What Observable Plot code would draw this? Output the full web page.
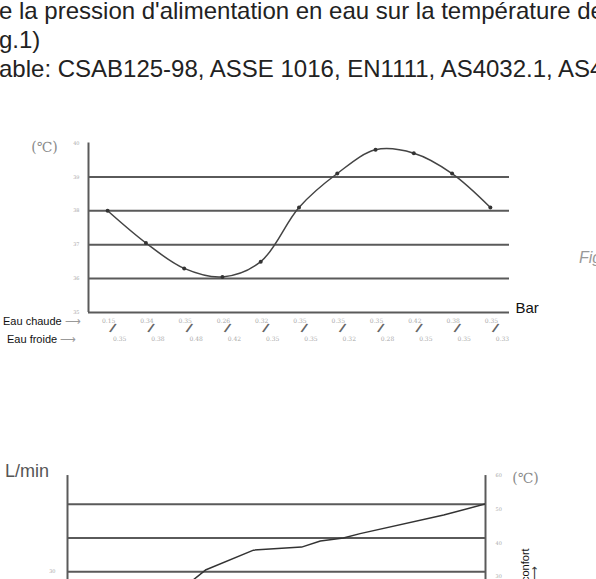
<!DOCTYPE html>
<html>
<head>
<meta charset="utf-8">
<script src="https://cdn.jsdelivr.net/npm/d3@7"></script>
<script src="https://cdn.jsdelivr.net/npm/@observablehq/plot@0.6"></script>
<style>
  html, body { margin: 0; padding: 0; background: #fff; }
  body { width: 596px; height: 579px; overflow: hidden; position: relative; font-family: "Liberation Sans", Arial, sans-serif; }
  .abs { position: absolute; white-space: nowrap; }
  .doc { font-size: 24px; color: #222; }
  .small { font-size: 11px; color: #111; }
  .arrow { color: #999; font-size: 11px; }
</style>
</head>
<body>
<div class="abs doc" style="left:-1px; top:-3px;">e la pression d'alimentation en eau sur la température de</div>
<div class="abs doc" style="left:-1px; top:26px;">g.1)</div>
<div class="abs doc" style="left:-1px; top:55px;">able: CSAB125-98, ASSE 1016, EN1111, AS4032.1, AS4032.2</div>
<div class="abs" style="left:579px; top:249px; font-size:16px; font-style:italic; color:#999;">Fig.1</div>
<div class="abs small" style="left:3px; top:315px;">Eau chaude <span class="arrow">⟶</span></div>
<div class="abs small" style="left:7px; top:333px;">Eau froide <span class="arrow">⟶</span></div>
<div class="abs" style="left:5px; top:461px; font-size:18px; color:#555;">L/min</div>
<div class="abs" style="left:519px; top:582px; font-size:11px; color:#111; transform:rotate(-90deg); transform-origin:left top;">confort</div>
<div class="abs" style="left:528px; top:582px; font-size:11px; color:#333; transform:rotate(-90deg); transform-origin:left top;">⟶</div>
<div id="top" class="abs" style="left:0; top:120px;"></div>
<div id="bottom" class="abs" style="left:0; top:440px;"></div>
<script>
// ---- top chart data ----
const stepIndex = [0, 1, 2, 3, 4, 5, 6, 7, 8, 9, 10];
const mixTemp = [38.0, 37.05, 36.3, 36.05, 36.5, 38.1, 39.1, 39.8, 39.7, 39.1, 38.1];
const hotPressure = ["0.15", "0.34", "0.35", "0.26", "0.32", "0.35", "0.35", "0.35", "0.42", "0.38", "0.35"];
const coldPressure = ["0.35", "0.38", "0.48", "0.42", "0.35", "0.35", "0.32", "0.28", "0.35", "0.35", "0.33"];
const topGrid = [36, 37, 38, 39];
const topTicks = [35, 36, 37, 38, 39, 40];

// ---- bottom chart data ----
const flowPos = [22, 30, 33, 44.5, 56, 60.5, 66, 70, 90, 100];
const outTemp = [24, 27.5, 30.5, 36.4, 37.3, 39.1, 40.0, 41.3, 46.8, 50.1];
const bottomGrid = [50, 40, 30];
const rightTicks = [60, 50, 40, 30];
const leftTicks = [30];

const rows = stepIndex.map((i, k) => ({i, t: mixTemp[k], hot: hotPressure[k], cold: coldPressure[k]}));

const topChart = Plot.plot({
  width: 596, height: 240,
  marginLeft: 88, marginRight: 87, marginTop: 22.5, marginBottom: 48,
  x: {domain: [-0.5, 10.5], axis: null},
  y: {domain: [35, 40], axis: null},
  style: {background: "transparent", overflow: "visible"},
  marks: [
    Plot.ruleY(topGrid, {stroke: "#5a5a5a", strokeWidth: 2}),
    Plot.ruleY([35], {stroke: "#5a5a5a", strokeWidth: 2}),
    Plot.ruleX([-0.5], {y1: 35, y2: 40, stroke: "#5a5a5a", strokeWidth: 2}),
    Plot.axisY(topTicks, {label: null, tickSize: 0, tickPadding: 9, fontSize: 5, fill: "#aaa", fontFamily: "DejaVu Serif"}),
    Plot.text(["(℃)"], {frameAnchor: "top-left", textAnchor: "middle", dx: -44, dy: -1, fontSize: 14, fill: "#8a8a8a", fontFamily: "DejaVu Serif"}),
    Plot.line(rows, {x: "i", y: "t", curve: "catmull-rom", stroke: "#444", strokeWidth: 1.5}),
    Plot.dot(rows, {x: "i", y: "t", r: 2, fill: "#333"}),
    Plot.text(rows, {x: "i", text: "hot", frameAnchor: "bottom", dy: 10, dx: 1, fontSize: 6, fill: "#aaa", fontFamily: "DejaVu Serif"}),
    Plot.text(rows, {x: "i", text: () => "/", frameAnchor: "bottom", dy: 20, dx: 4, fontSize: 13, fontWeight: "bold", fill: "#666", rotate: 15}),
    Plot.text(rows, {x: "i", text: "cold", frameAnchor: "bottom", dy: 28, dx: 12, fontSize: 6, fill: "#aaa", fontFamily: "DejaVu Serif"}),
    Plot.text(["Bar"], {frameAnchor: "bottom-right", dx: 6, textAnchor: "start", fontSize: 15, fill: "#111", fontFamily: "Liberation Sans"})
  ]
});
document.getElementById("top").appendChild(topChart);

const lineRows = flowPos.map((x, k) => ({x, y: outTemp[k]}));

const bottomChart = Plot.plot({
  width: 596, height: 165,
  marginLeft: 67, marginRight: 111, marginTop: 30, marginBottom: 0,
  x: {domain: [0, 100], axis: null},
  y: {domain: [20, 60], axis: null},
  style: {background: "transparent", overflow: "visible"},
  marks: [
    Plot.ruleY(bottomGrid, {stroke: "#5a5a5a", strokeWidth: 2}),
    Plot.ruleX([0], {y1: 20, y2: 58.5, stroke: "#5a5a5a", strokeWidth: 2}),
    Plot.ruleX([100], {y1: 20, y2: 58.5, stroke: "#5a5a5a", strokeWidth: 2}),
    Plot.axisY(rightTicks, {anchor: "right", label: null, tickSize: 0, tickPadding: 10, dy: 5, fontSize: 5, fill: "#aaa", fontFamily: "DejaVu Serif"}),
    Plot.axisY(leftTicks, {anchor: "left", label: null, tickSize: 0, tickPadding: 12, fontSize: 5, fill: "#aaa", fontFamily: "DejaVu Serif"}),
    Plot.text(["(℃)"], {frameAnchor: "top-right", textAnchor: "middle", dx: 40, dy: 3, fontSize: 14, fill: "#8a8a8a", fontFamily: "DejaVu Serif"}),
    Plot.line(lineRows, {x: "x", y: "y", stroke: "#333", strokeWidth: 1.5, clip: true})
  ]
});
document.getElementById("bottom").appendChild(bottomChart);
</script>
</body>
</html>
